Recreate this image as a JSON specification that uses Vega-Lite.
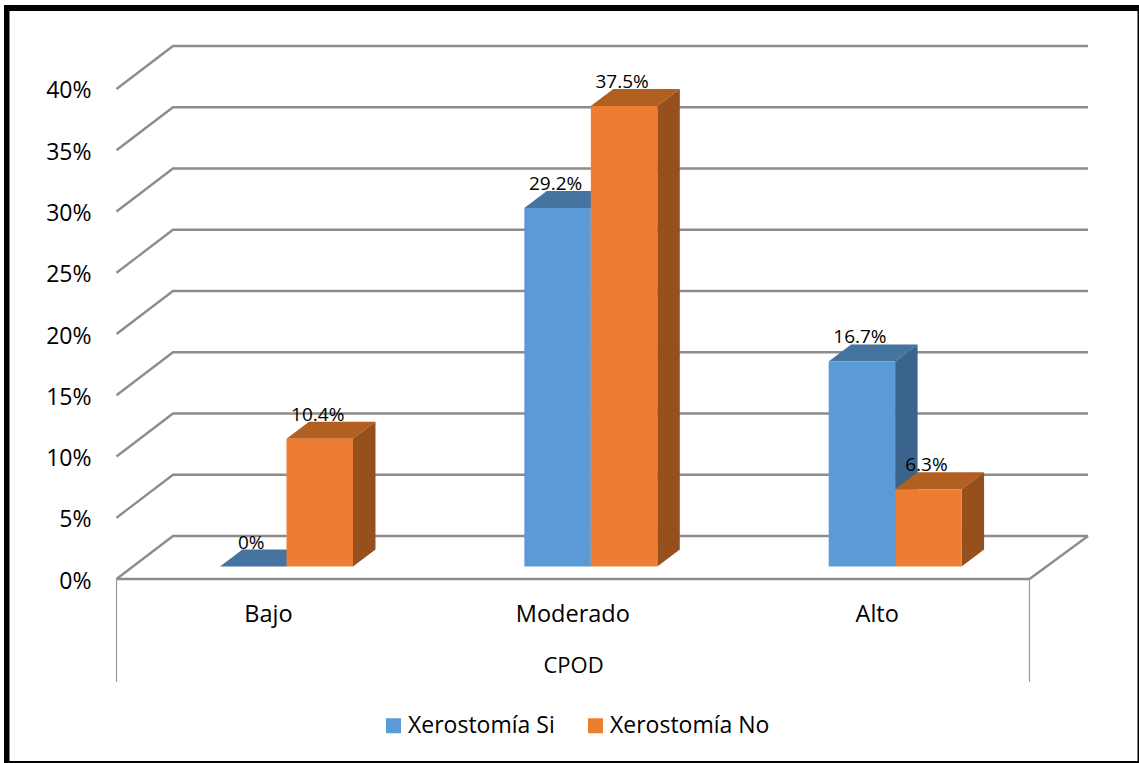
{
"$schema":"https://vega.github.io/schema/vega-lite/v6.json",
"width":1139,"height":763,"padding":0,"autosize":"none","background":"white",
"view":{"stroke":null},
"config":{"font":"Open Sans"},
"datasets":{
"barras":[
{"nivel":"Bajo","grupo":"Xerostomía Si","valor":0,"etiqueta":"0%"},
{"nivel":"Bajo","grupo":"Xerostomía No","valor":10.4,"etiqueta":"10.4%"},
{"nivel":"Moderado","grupo":"Xerostomía Si","valor":29.2,"etiqueta":"29.2%"},
{"nivel":"Moderado","grupo":"Xerostomía No","valor":37.5,"etiqueta":"37.5%"},
{"nivel":"Alto","grupo":"Xerostomía Si","valor":16.7,"etiqueta":"16.7%"},
{"nivel":"Alto","grupo":"Xerostomía No","valor":6.3,"etiqueta":"6.3%"}
],
"caras":[
{"cara":"BS arriba","tono":"Si arriba","u":0.3401,"bajo":0,"alto":0},
{"cara":"BS arriba","tono":"Si arriba","u":0.414,"bajo":0,"alto":1.384},
{"cara":"BS arriba","tono":"Si arriba","u":0.5586,"bajo":0,"alto":1.384},
{"cara":"BS arriba","tono":"Si arriba","u":0.6325,"bajo":1.384,"alto":1.384},
{"cara":"MS arriba","tono":"Si arriba","u":1.34,"bajo":29.2,"alto":29.2},
{"cara":"MS arriba","tono":"Si arriba","u":1.4139,"bajo":29.2,"alto":30.584},
{"cara":"MS arriba","tono":"Si arriba","u":1.5585,"bajo":29.2,"alto":30.584},
{"cara":"MS arriba","tono":"Si arriba","u":1.6324,"bajo":30.584,"alto":30.584},
{"cara":"MS lado","tono":"Si lado","u":1.5585,"bajo":0,"alto":29.2},
{"cara":"MS lado","tono":"Si lado","u":1.6324,"bajo":1.384,"alto":30.584},
{"cara":"AS arriba","tono":"Si arriba","u":2.3399,"bajo":16.7,"alto":16.7},
{"cara":"AS arriba","tono":"Si arriba","u":2.4138,"bajo":16.7,"alto":18.084},
{"cara":"AS arriba","tono":"Si arriba","u":2.5584,"bajo":16.7,"alto":18.084},
{"cara":"AS arriba","tono":"Si arriba","u":2.6323,"bajo":18.084,"alto":18.084},
{"cara":"AS lado","tono":"Si lado","u":2.5584,"bajo":0,"alto":16.7},
{"cara":"AS lado","tono":"Si lado","u":2.6323,"bajo":1.384,"alto":18.084},
{"cara":"BN arriba","tono":"No arriba","u":0.5586,"bajo":10.4,"alto":10.4},
{"cara":"BN arriba","tono":"No arriba","u":0.6325,"bajo":10.4,"alto":11.784},
{"cara":"BN arriba","tono":"No arriba","u":0.7771,"bajo":10.4,"alto":11.784},
{"cara":"BN arriba","tono":"No arriba","u":0.851,"bajo":11.784,"alto":11.784},
{"cara":"BN lado","tono":"No lado","u":0.7771,"bajo":0,"alto":10.4},
{"cara":"BN lado","tono":"No lado","u":0.851,"bajo":1.384,"alto":11.784},
{"cara":"MN arriba","tono":"No arriba","u":1.5585,"bajo":37.5,"alto":37.5},
{"cara":"MN arriba","tono":"No arriba","u":1.6324,"bajo":37.5,"alto":38.884},
{"cara":"MN arriba","tono":"No arriba","u":1.777,"bajo":37.5,"alto":38.884},
{"cara":"MN arriba","tono":"No arriba","u":1.8509,"bajo":38.884,"alto":38.884},
{"cara":"MN lado","tono":"No lado","u":1.777,"bajo":0,"alto":37.5},
{"cara":"MN lado","tono":"No lado","u":1.8509,"bajo":1.384,"alto":38.884},
{"cara":"AN arriba","tono":"No arriba","u":2.5584,"bajo":6.3,"alto":6.3},
{"cara":"AN arriba","tono":"No arriba","u":2.6323,"bajo":6.3,"alto":7.684},
{"cara":"AN arriba","tono":"No arriba","u":2.7769,"bajo":6.3,"alto":7.684},
{"cara":"AN arriba","tono":"No arriba","u":2.8508,"bajo":7.684,"alto":7.684},
{"cara":"AN lado","tono":"No lado","u":2.7769,"bajo":0,"alto":6.3},
{"cara":"AN lado","tono":"No lado","u":2.8508,"bajo":1.384,"alto":7.684}
],
"rejilla":[
{"linea":"0f","u":0,"v":0},{"linea":"0f","u":3,"v":0},{"linea":"0f","u":3.1923,"v":3.51},
{"linea":"0","u":0,"v":0},{"linea":"0","u":0.18565,"v":3.51},{"linea":"0","u":3.1923,"v":3.51},
{"linea":"5","u":0,"v":5},{"linea":"5","u":0.18565,"v":8.51},{"linea":"5","u":3.1923,"v":8.51},
{"linea":"10","u":0,"v":10},{"linea":"10","u":0.18565,"v":13.51},{"linea":"10","u":3.1923,"v":13.51},
{"linea":"15","u":0,"v":15},{"linea":"15","u":0.18565,"v":18.51},{"linea":"15","u":3.1923,"v":18.51},
{"linea":"20","u":0,"v":20},{"linea":"20","u":0.18565,"v":23.51},{"linea":"20","u":3.1923,"v":23.51},
{"linea":"25","u":0,"v":25},{"linea":"25","u":0.18565,"v":28.51},{"linea":"25","u":3.1923,"v":28.51},
{"linea":"30","u":0,"v":30},{"linea":"30","u":0.18565,"v":33.51},{"linea":"30","u":3.1923,"v":33.51},
{"linea":"35","u":0,"v":35},{"linea":"35","u":0.18565,"v":38.51},{"linea":"35","u":3.1923,"v":38.51},
{"linea":"40","u":0,"v":40},{"linea":"40","u":0.18565,"v":43.51},{"linea":"40","u":3.1923,"v":43.51}
],
"corchetes":[
{"linea":"izq","u":0,"v":0},{"linea":"izq","u":0,"v":-8.41},
{"linea":"der","u":3,"v":0},{"linea":"der","u":3,"v":-8.41}
],
"marco":[
{"u":-0.36966,"u2":-0.35159,"v":46.857,"v2":-15.0204},
{"u":-0.36966,"u2":3.35984,"v":46.857,"v2":46.367},
{"u":3.3549,"u2":3.35984,"v":46.857,"v2":-15.0204},
{"u":-0.36966,"u2":3.35984,"v":-14.857,"v2":-15.0204}
]
},
"resolve":{"scale":{"x":"independent","y":"independent","color":"independent","xOffset":"independent"},"axis":{"x":"independent","y":"independent"},"legend":{"color":"independent"}},
"layer":[
{"data":{"name":"marco"},"mark":{"type":"rect","color":"#000000"},
"encoding":{
"x":{"field":"u","type":"quantitative","axis":null,"scale":{"domain":[-0.38281,3.35984],"nice":false,"zero":false}},
"x2":{"field":"u2"},
"y":{"field":"v","type":"quantitative","axis":null,"scale":{"domain":[-15.0204,47.2653],"nice":false,"zero":false}},
"y2":{"field":"v2"}}},
{"data":{"name":"rejilla"},"mark":{"type":"line","color":"#8C8C8C","strokeWidth":2.3,"clip":false},
"encoding":{
"x":{"field":"u","type":"quantitative","axis":null,"scale":{"domain":[-0.38281,3.35984],"nice":false,"zero":false}},
"y":{"field":"v","type":"quantitative","scale":{"domain":[-15.0204,47.2653],"nice":false,"zero":false},
"axis":{"orient":"left","offset":-116,"values":[0,5,10,15,20,25,30,35,40],"labelExpr":"datum.value + '%'","title":null,"domain":false,"ticks":false,"grid":false,"labelFontSize":23,"labelColor":"#000000","labelPadding":25,"labelOffset":2,"labelFont":"Open Sans"}},
"detail":{"field":"linea"}}},
{"data":{"name":"corchetes"},"mark":{"type":"line","color":"#9A9A9A","strokeWidth":1.2},
"encoding":{
"x":{"field":"u","type":"quantitative","axis":null,"scale":{"domain":[-0.38281,3.35984],"nice":false,"zero":false}},
"y":{"field":"v","type":"quantitative","axis":null,"scale":{"domain":[-15.0204,47.2653],"nice":false,"zero":false}},
"detail":{"field":"linea"}}},
{"data":{"name":"caras"},"mark":{"type":"area","orient":"vertical"},
"encoding":{
"x":{"field":"u","type":"quantitative","axis":null,"scale":{"domain":[-0.38281,3.35984],"nice":false,"zero":false}},
"y":{"field":"bajo","type":"quantitative","axis":null,"scale":{"domain":[-16.0016,46.1319],"nice":false,"zero":false}},
"y2":{"field":"alto"},
"detail":{"field":"cara"},
"color":{"field":"tono","type":"nominal","legend":null,"scale":{"domain":["Si arriba","Si lado","No arriba","No lado"],"range":["#44749F","#3A648C","#B25F22","#95501D"]}}}},
{"data":{"name":"barras"},"mark":{"type":"bar"},
"encoding":{
"x":{"field":"nivel","type":"nominal","sort":["Bajo","Moderado","Alto"],"scale":{"domain":["Bajo","Moderado","Alto"],"range":[134.34,1047.34],"paddingInner":0.56297,"paddingOuter":0.28148},
"axis":{"orient":"bottom","offset":-184,"title":"CPOD","titleFontSize":22,"titleFontWeight":"normal","titleColor":"#000000","titleX":573,"titleY":86,"titleAlign":"center","titleBaseline":"middle","labelAngle":0,"labelFontSize":23.5,"labelColor":"#000000","labelOffset":-18,"labelPadding":23,"ticks":false,"domain":false,"grid":false}},
"xOffset":{"field":"grupo","type":"nominal","sort":["Xerostomía Si","Xerostomía No"],"scale":{"paddingInner":0,"paddingOuter":0}},
"y":{"field":"valor","type":"quantitative","axis":null,"scale":{"domain":[-16.0016,46.1319],"nice":false,"zero":false}},
"color":{"field":"grupo","type":"nominal","sort":["Xerostomía Si","Xerostomía No"],"scale":{"domain":["Xerostomía Si","Xerostomía No"],"range":["#5B9BD5","#ED7D31"]},
"legend":{"orient":"none","legendX":382,"legendY":714,"direction":"horizontal","title":null,"symbolType":"square","symbolSize":225,"symbolStrokeWidth":0,"labelFontSize":23,"labelColor":"#000000","labelOffset":3,"columnPadding":29,"symbolOpacity":1}}}},
{"data":{"name":"barras"},"mark":{"type":"text","fontSize":19,"color":"#000000","dx":-2,"dy":-24,"baseline":"middle"},
"encoding":{
"x":{"field":"nivel","type":"nominal","axis":null,"sort":["Bajo","Moderado","Alto"],"scale":{"domain":["Bajo","Moderado","Alto"],"range":[134.34,1047.34],"paddingInner":0.56297,"paddingOuter":0.28148}},
"xOffset":{"field":"grupo","type":"nominal","sort":["Xerostomía Si","Xerostomía No"],"scale":{"type":"point","padding":0.5}},
"y":{"field":"valor","type":"quantitative","axis":null,"scale":{"domain":[-16.0016,46.1319],"nice":false,"zero":false}},
"text":{"field":"etiqueta"}}}
]
}
